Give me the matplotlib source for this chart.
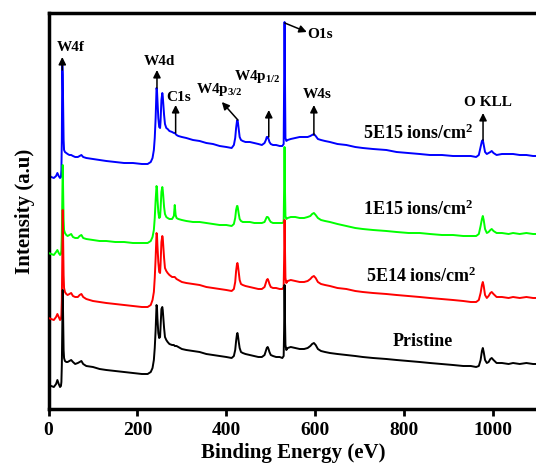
import matplotlib
matplotlib.use("Agg")
import matplotlib.pyplot as plt

plt.rcParams["font.family"] = ["Liberation Serif", "DejaVu Serif"]
plt.rcParams["font.weight"] = "bold"
plt.rcParams["mathtext.fontset"] = "custom"
plt.rcParams["mathtext.rm"] = "Liberation Serif:bold"
plt.rcParams["mathtext.bf"] = "Liberation Serif:bold"
plt.rcParams["mathtext.it"] = "Liberation Serif:bold"

# Binding energy grid (eV), shared by all spectra
energy = [
    0, 6, 12, 17, 20, 23, 26, 28, 29, 30,
    31, 32, 33, 34, 35, 37, 40, 43, 47, 51,
    55, 60, 66, 70, 74, 78, 85, 100, 115, 130,
    150, 170, 190, 210, 223, 230, 234, 237, 239, 241,
    243, 244, 245, 247, 249, 251, 252, 254, 256, 257,
    258, 260, 262, 265, 268, 272, 278, 282, 284, 286,
    288, 292, 300, 310, 325, 340, 355, 370, 385, 400,
    412, 417, 420, 422, 424, 425, 426, 428, 430, 433,
    437, 443, 453, 463, 472, 480, 486, 489, 491, 493,
    495, 497, 500, 505, 512, 520, 526, 529, 530, 531,
    532, 533, 535, 538, 545, 555, 565, 575, 583, 589,
    593, 597, 601, 606, 613, 622, 633, 650, 670, 690,
    707, 730, 760, 783, 810, 835, 858, 885, 910, 933,
    950, 962, 968, 972, 975, 977, 979, 982, 986, 990,
    994, 997, 1001, 1008, 1020, 1035, 1045, 1060, 1075, 1090,
    1100,
]

# Intensities (a.u., vertically offset spectra)
pristine = [
    115, 114, 113, 116, 120, 116, 113, 114, 118, 135,
    170, 210, 180, 150, 142, 139, 138, 138, 139, 140,
    138, 136, 137, 138, 139, 136, 134, 133, 131, 130,
    129, 128, 127, 126, 126, 128, 132, 140, 152, 170,
    195, 193, 182, 167, 162, 163, 172, 191, 193, 190,
    184, 172, 163, 160, 158, 156, 155, 155, 154, 154,
    154, 153, 151, 150, 149, 148, 146, 145, 144, 143,
    142, 144, 150, 159, 166, 167, 165, 158, 152, 148,
    147, 146, 145, 144, 143, 143, 145, 149, 152, 153,
    151, 148, 145, 144, 143, 143, 142, 144, 170, 215,
    180, 155, 150, 152, 153, 152, 151, 151, 152, 154,
    156, 157, 155, 151, 149, 148, 147, 146, 145, 144,
    143, 142, 141, 140, 139, 138, 137, 136, 135, 134,
    134, 133, 134, 140, 149, 152, 148, 140, 137, 138,
    141, 142, 140, 137, 137, 136, 137, 136, 137, 136,
    136,
]

dose_5e14 = [
    182, 181, 180, 183, 186, 183, 180, 181, 185, 200,
    240, 290, 260, 225, 212, 208, 206, 205, 206, 207,
    204, 203, 203, 205, 206, 203, 201, 199, 198, 197,
    196, 195, 194, 193, 193, 195, 200, 208, 222, 242,
    267, 265, 255, 238, 228, 227, 235, 258, 264, 262,
    255, 242, 232, 229, 227, 225, 223, 223, 223, 222,
    221, 220, 218, 217, 216, 215, 213, 212, 211, 210,
    209, 211, 218, 229, 236, 237, 235, 227, 220, 216,
    215, 214, 213, 212, 211, 211, 213, 217, 220, 221,
    219, 216, 213, 212, 212, 211, 211, 213, 240, 280,
    250, 222, 217, 219, 220, 219, 218, 218, 219, 221,
    223, 224, 222, 218, 216, 215, 214, 212, 211, 209,
    208, 207, 206, 205, 204, 203, 202, 201, 200, 199,
    198, 198, 200, 207, 215, 218, 214, 205, 202, 204,
    207, 208, 206, 203, 203, 202, 203, 202, 203, 202,
    202,
]

dose_1e15 = [
    247, 246, 245, 248, 250, 247, 245, 246, 250, 265,
    300, 335, 310, 280, 270, 267, 265, 264, 265, 266,
    263, 262, 262, 264, 265, 262, 261, 260, 259, 259,
    258, 258, 257, 257, 257, 259, 263, 270, 282, 300,
    314, 312, 302, 288, 282, 283, 290, 308, 313, 310,
    305, 293, 286, 283, 282, 281, 281, 284, 295, 285,
    282, 281, 280, 279, 278, 278, 277, 276, 275, 275,
    274, 276, 282, 290, 294, 294, 292, 286, 281, 279,
    278, 278, 278, 277, 277, 277, 278, 281, 283, 283,
    282, 280, 278, 277, 277, 277, 277, 278, 310, 353,
    310, 284, 281, 282, 283, 283, 282, 282, 283, 284,
    286, 287, 285, 282, 280, 279, 278, 276, 274, 272,
    271, 270, 269, 268, 267, 267, 266, 265, 265, 264,
    264, 264, 266, 274, 281, 284, 280, 271, 267, 268,
    270, 271, 269, 267, 267, 266, 267, 266, 267, 266,
    266,
]

dose_5e15 = [
    325, 323, 322, 324, 327, 324, 322, 323, 330, 360,
    438, 425, 390, 360, 350, 348, 347, 346, 345, 345,
    344, 343, 343, 344, 345, 343, 342, 341, 340, 339,
    338, 337, 337, 336, 336, 338, 342, 350, 362, 382,
    412, 410, 400, 382, 373, 372, 378, 400, 407, 404,
    398, 385, 376, 372, 371, 369, 368, 367, 367, 366,
    365, 364, 363, 362, 360, 359, 357, 356, 354, 353,
    352, 355, 362, 372, 379, 380, 378, 370, 363, 360,
    359, 358, 358, 357, 356, 355, 357, 360, 363, 363,
    361, 358, 356, 355, 355, 354, 354, 356, 420, 478,
    420, 362, 359, 360, 361, 362, 363, 363, 363, 364,
    365, 366, 364, 361, 360, 359, 358, 356, 355, 353,
    352, 351, 350, 348, 347, 346, 345, 345, 344, 344,
    344, 343, 345, 353, 359, 360, 355, 348, 346, 347,
    348, 349, 347, 345, 346, 346, 346, 345, 345, 344,
    344,
]

series = [dose_5e15, dose_1e15, dose_5e14, pristine]
colors = ["#0000ff", "#00ff00", "#ff0000", "#000000"]
sample_labels = ["5E15 ions/cm$^{2}$", "1E15 ions/cm$^{2}$",
                 "5E14 ions/cm$^{2}$", "Pristine"]
label_pos = [(831, 367), (831, 291), (838, 224), (842, 159)]

# Peak assignments: label, label position, arrow tail, arrow head
peak_names = ["W4f", "W4d", "C1s", r"W4p$_{3/2}$", r"W4p$_{1/2}$",
              "O1s", "W4s", "O KLL"]
peak_text_xy = [(49, 452), (250, 438), (293, 402), (384, 410),
                (470, 423), (610, 465), (604, 405), (989, 397)]
peak_arrow_from = [(31, 430), (244, 412), (286, 367), (426, 380),
                   (495.5, 363), (531.5, 477), (597, 365), (977.5, 360)]
peak_arrow_to = [(31, 443), (244, 430), (286, 395), (390, 398),
                 (495.5, 390), (581, 468), (597, 395), (977.5, 387)]

fig = plt.figure(figsize=(5.36, 4.65), dpi=100)
ax = fig.add_axes([48.5 / 536, (465 - 409) / 465, (537.5 - 48.5) / 536, (409 - 13) / 465])

for i, (y, c) in enumerate(zip(series, colors)):
    ax.plot(energy, y, color=c, lw=1.4, zorder=2 + i)

for txt, (tx, ty) in zip(sample_labels, label_pos):
    ax.text(tx, ty, txt, fontsize=13, fontweight="bold", ha="center", va="center", zorder=10)

for name, (tx, ty), p0, p1 in zip(peak_names, peak_text_xy, peak_arrow_from, peak_arrow_to):
    ax.text(tx, ty, name, fontsize=11, fontweight="bold", ha="center", va="center", zorder=10)
    ax.annotate("", xy=p1, xytext=p0,
                arrowprops=dict(arrowstyle="-|>", color="black", lw=1.1,
                                mutation_scale=11, shrinkA=0, shrinkB=0),
                zorder=10)

ax.set_xlim(0, 1100)
ax.set_ylim(91, 487)
ax.set_xticks([0, 200, 400, 600, 800, 1000])
ax.set_yticks([])
ax.tick_params(axis="x", direction="out", length=5, width=2, labelsize=14, pad=4)
for lab in ax.get_xticklabels():
    lab.set_fontweight("bold")
for side in ["left", "bottom", "top"]:
    ax.spines[side].set_linewidth(2.5)
ax.spines["right"].set_visible(False)

ax.set_xlabel("Binding Energy (eV)", fontsize=15, fontweight="bold", labelpad=3)
ax.set_ylabel("Intensity (a.u)", fontsize=15, fontweight="bold", labelpad=10)

fig.savefig("out.png", dpi=100)
